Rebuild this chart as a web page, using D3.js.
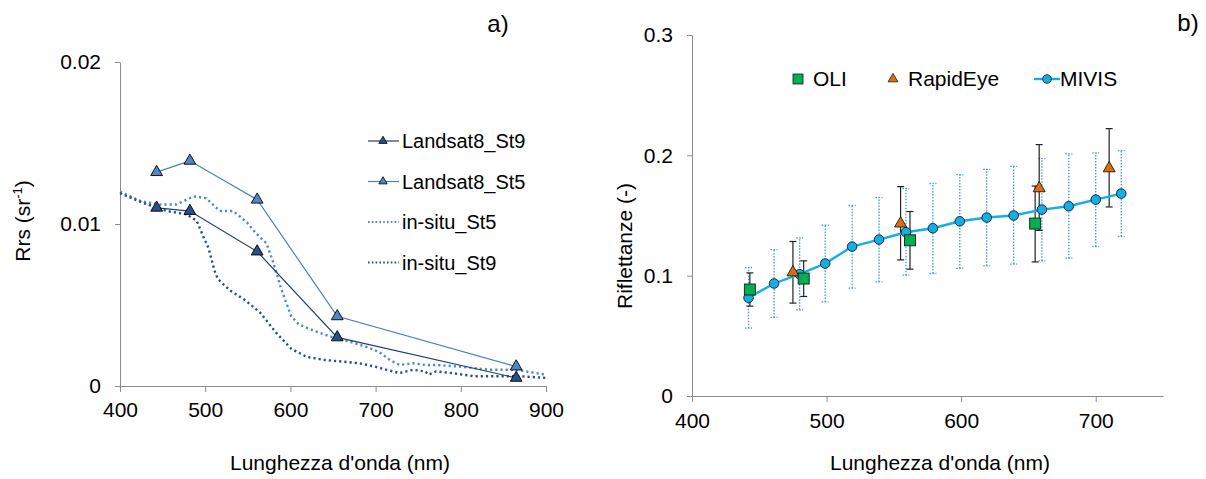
<!DOCTYPE html>
<html>
<head>
<meta charset="utf-8">
<script src="https://cdn.jsdelivr.net/npm/d3@7"></script>
<style>
  body { margin: 0; background: #fff; }
  svg { display: block; font-family: "Liberation Sans", Arial, sans-serif; }
  .tick text { fill: #000; }
</style>
</head>
<body>
<svg id="chart" width="1206" height="479"></svg>
<script>
// --- panel a) data ---
const landsatWave = [443, 482, 561, 655, 865];
const landsatSt9 = [0.0110, 0.0108, 0.0083, 0.0030, 0.0005];
const landsatSt5 = [0.0132, 0.0139, 0.0115, 0.0043, 0.0012];

const insituSt5 = [
  [400, 0.0120], [425, 0.0114], [447, 0.0112], [466, 0.0112], [486, 0.0117],
  [501, 0.0116], [517, 0.0108], [533, 0.0108], [549, 0.0101], [560, 0.0094],
  [572, 0.0088], [580, 0.0076], [588, 0.0062], [594, 0.0053], [601, 0.0043],
  [610, 0.0038], [628, 0.0034], [650, 0.0030], [672, 0.0027], [690, 0.0024],
  [704, 0.0021], [717, 0.0016], [728, 0.0013], [744, 0.0014], [758, 0.0013],
  [771, 0.0013], [798, 0.0012], [834, 0.0010], [865, 0.0010], [900, 0.0007]
];
const insituSt9 = [
  [400, 0.0119], [427, 0.0113], [455, 0.0108], [478, 0.0106], [490, 0.0102],
  [498, 0.0092], [504, 0.0085], [511, 0.0071], [515, 0.0066], [529, 0.0059],
  [547, 0.0053], [565, 0.0045], [583, 0.0033], [601, 0.0023], [619, 0.0018],
  [641, 0.0016], [663, 0.0015], [681, 0.0014], [699, 0.0012], [713, 0.0010],
  [728, 0.0008], [744, 0.0010], [758, 0.0009], [762, 0.0007], [771, 0.0009],
  [789, 0.0008], [816, 0.0006], [843, 0.0006], [870, 0.0006], [900, 0.0005]
];

// --- panel b) data ---
const mivisWave = [442, 461, 480, 499, 519, 539, 559, 579, 599, 619, 639, 660, 680, 700, 719];
const mivisVal  = [0.0816, 0.0935, 0.1012, 0.1101, 0.1242, 0.1300, 0.1361, 0.1394, 0.1452, 0.1483, 0.1500, 0.1549, 0.1577, 0.1632, 0.1682];
const mivisHigh = [0.1068, 0.1217, 0.1314, 0.1419, 0.1583, 0.1649, 0.1724, 0.1766, 0.1840, 0.1884, 0.1909, 0.1973, 0.2012, 0.2020, 0.2039];
const mivisLow  = [0.0564, 0.0653, 0.0716, 0.0782, 0.0896, 0.0948, 0.1004, 0.1018, 0.1060, 0.1082, 0.1096, 0.1123, 0.1145, 0.1242, 0.1325];

const oliWave = [443, 483, 562, 655];
const oliVal  = [0.0885, 0.0976, 0.1294, 0.1433];
const oliHigh = [0.1023, 0.1123, 0.1533, 0.1745];
const oliLow  = [0.0747, 0.0827, 0.1054, 0.1114];

const reWave = [475, 555, 658, 710];
const reVal  = [0.1027, 0.1433, 0.1726, 0.1892];
const reHigh = [0.1284, 0.1740, 0.2089, 0.2222];
const reLow  = [0.0772, 0.1131, 0.1376, 0.1571];

const svg = d3.select('#chart');
const axisColor = '#8c8c8c';
const tri = (size) => d3.symbol(d3.symbolTriangle, size)();

function styleAxis(g) {
  g.selectAll('path, line').attr('stroke', axisColor);
  g.selectAll('text').attr('font-size', 21).attr('fill', '#000');
}

// ================= panel a =================
const xa = d3.scaleLinear().domain([400, 900]).range([120, 546]);
const ya = d3.scaleLinear().domain([0, 0.02]).range([386, 62]);

svg.append('g')
  .attr('transform', 'translate(0,386)')
  .call(d3.axisBottom(xa).tickValues([400, 500, 600, 700, 800, 900]).tickSizeInner(6).tickSizeOuter(0).tickPadding(10))
  .call(styleAxis);
svg.append('g')
  .attr('transform', 'translate(120,0)')
  .call(d3.axisLeft(ya).tickValues([0, 0.01, 0.02]).tickSizeInner(5).tickSizeOuter(0).tickPadding(14)
    .tickFormat(d => d === 0 ? '0' : d3.format('.2f')(d)))
  .call(styleAxis);

const lineA = d3.line().x(d => xa(d[0])).y(d => ya(d[1]));

const aSeries = [
  { name: 'Landsat8_St9', pts: d3.zip(landsatWave, landsatSt9), color: '#1f3f73', fill: '#27508c', dotted: false },
  { name: 'Landsat8_St5', pts: d3.zip(landsatWave, landsatSt5), color: '#4a7ebf', fill: '#4f86c9', dotted: false },
  { name: 'in-situ_St5', pts: insituSt5, color: '#4f89c9', dotted: true },
  { name: 'in-situ_St9', pts: insituSt9, color: '#2c4f88', dotted: true }
];

// dotted in-situ lines first, then Landsat lines on top
[aSeries[2], aSeries[3], aSeries[1], aSeries[0]].forEach(s => {
  svg.append('path')
    .attr('d', lineA(s.pts))
    .attr('fill', 'none')
    .attr('stroke', s.color)
    .attr('stroke-width', s.dotted ? 2.4 : 1.2)
    .attr('stroke-dasharray', s.dotted ? '2.2,3' : null);
  if (!s.dotted) {
    svg.append('g').selectAll('path')
      .data(s.pts)
      .join('path')
      .attr('d', tri(60))
      .attr('transform', d => `translate(${xa(d[0])},${ya(d[1])})`)
      .attr('fill', s.fill)
      .attr('stroke', '#000')
      .attr('stroke-width', 0.9);
  }
});

// legend a
const legA = svg.append('g');
aSeries.forEach((s, i) => {
  const y = 141 + i * 40.5;
  legA.append('line')
    .attr('x1', 368).attr('x2', 399).attr('y1', y).attr('y2', y)
    .attr('stroke', s.color)
    .attr('stroke-width', s.dotted ? 1.8 : 1.2)
    .attr('stroke-dasharray', s.dotted ? '1.6,2.2' : null);
  if (!s.dotted) {
    legA.append('path')
      .attr('d', tri(30))
      .attr('transform', `translate(383,${y})`)
      .attr('fill', s.fill)
      .attr('stroke', '#000')
      .attr('stroke-width', 0.8);
  }
  legA.append('text')
    .attr('x', 402).attr('y', y).attr('dy', '0.35em')
    .attr('font-size', 20)
    .text(s.name);
});

// titles a
svg.append('text')
  .attr('x', 340).attr('y', 463).attr('dy', '0.35em')
  .attr('text-anchor', 'middle').attr('font-size', 21)
  .text("Lunghezza d'onda (nm)");
const ylabA = svg.append('text')
  .attr('transform', 'translate(30,221) rotate(-90)')
  .attr('text-anchor', 'middle').attr('font-size', 21);
ylabA.append('tspan').text('Rrs (sr');
ylabA.append('tspan').attr('font-size', 13).attr('dy', -8).text('-1');
ylabA.append('tspan').attr('dy', 8).text(')');
svg.append('text')
  .attr('x', 498).attr('y', 24).attr('dy', '0.35em')
  .attr('text-anchor', 'middle').attr('font-size', 24)
  .text('a)');

// ================= panel b =================
const xb = d3.scaleLinear().domain([400, 750]).range([692, 1163]);
const yb = d3.scaleLinear().domain([0, 0.3]).range([396, 35]);

svg.append('g')
  .attr('transform', 'translate(0,396)')
  .call(d3.axisBottom(xb).tickValues([400, 500, 600, 700]).tickSizeInner(6).tickSizeOuter(0).tickPadding(11))
  .call(styleAxis);
svg.append('g')
  .attr('transform', 'translate(692,0)')
  .call(d3.axisLeft(yb).tickValues([0, 0.1, 0.2, 0.3]).tickSizeInner(5).tickSizeOuter(0).tickPadding(14)
    .tickFormat(d => d === 0 ? '0' : d3.format('.1f')(d)))
  .call(styleAxis);

const mivis = mivisWave.map((w, i) => ({ w, v: mivisVal[i], hi: mivisHigh[i], lo: mivisLow[i] }));
const oli = oliWave.map((w, i) => ({ w, v: oliVal[i], hi: oliHigh[i], lo: oliLow[i] }));
const rapid = reWave.map((w, i) => ({ w, v: reVal[i], hi: reHigh[i], lo: reLow[i] }));

function errorBars(data, color, dotted) {
  const g = svg.append('g')
    .attr('stroke', color)
    .attr('stroke-width', dotted ? 1.3 : 1.2)
    .attr('stroke-dasharray', dotted ? '1.5,1.5' : null);
  g.selectAll('line.v').data(data).join('line').attr('class', 'v')
    .attr('x1', d => xb(d.w)).attr('x2', d => xb(d.w))
    .attr('y1', d => yb(d.lo)).attr('y2', d => yb(d.hi));
  ['hi', 'lo'].forEach(k => {
    g.selectAll('line.' + k).data(data).join('line').attr('class', k)
      .attr('x1', d => xb(d.w) - 3.5).attr('x2', d => xb(d.w) + 3.5)
      .attr('y1', d => yb(d[k])).attr('y2', d => yb(d[k]));
  });
}

errorBars(mivis, '#3d9be0', true);
errorBars(rapid, '#222', false);
errorBars(oli, '#222', false);

svg.append('path')
  .attr('d', d3.line().x(d => xb(d.w)).y(d => yb(d.v))(mivis))
  .attr('fill', 'none')
  .attr('stroke', '#12aee8')
  .attr('stroke-width', 2.4);

svg.append('g').selectAll('circle')
  .data(mivis)
  .join('circle')
  .attr('cx', d => xb(d.w)).attr('cy', d => yb(d.v))
  .attr('r', 4.8)
  .attr('fill', '#12aee8')
  .attr('stroke', '#1a1a1a')
  .attr('stroke-width', 0.9);

svg.append('g').selectAll('path')
  .data(rapid)
  .join('path')
  .attr('d', tri(62))
  .attr('transform', d => `translate(${xb(d.w)},${yb(d.v)})`)
  .attr('fill', '#e36c0a')
  .attr('stroke', '#1a1a1a')
  .attr('stroke-width', 0.9);

svg.append('g').selectAll('rect')
  .data(oli)
  .join('rect')
  .attr('x', d => xb(d.w) - 5.5).attr('y', d => yb(d.v) - 5.5)
  .attr('width', 11).attr('height', 11)
  .attr('fill', '#00b050')
  .attr('stroke', '#1a1a1a')
  .attr('stroke-width', 0.9);

// legend b
const legB = svg.append('g');
legB.append('rect')
  .attr('x', 793).attr('y', 74).attr('width', 10).attr('height', 10)
  .attr('fill', '#00b050').attr('stroke', '#1a1a1a').attr('stroke-width', 0.8);
legB.append('text').attr('x', 813).attr('y', 79).attr('dy', '0.35em').attr('font-size', 21).text('OLI');
legB.append('path')
  .attr('d', tri(42)).attr('transform', 'translate(893,79)')
  .attr('fill', '#e36c0a').attr('stroke', '#1a1a1a').attr('stroke-width', 0.8);
legB.append('text').attr('x', 908).attr('y', 79).attr('dy', '0.35em').attr('font-size', 21).text('RapidEye');
legB.append('line')
  .attr('x1', 1034).attr('x2', 1060).attr('y1', 79).attr('y2', 79)
  .attr('stroke', '#12aee8').attr('stroke-width', 2.4);
legB.append('circle')
  .attr('cx', 1047).attr('cy', 79).attr('r', 4.3)
  .attr('fill', '#12aee8').attr('stroke', '#1a1a1a').attr('stroke-width', 0.8);
legB.append('text').attr('x', 1060).attr('y', 79).attr('dy', '0.35em').attr('font-size', 21).text('MIVIS');

// titles b
svg.append('text')
  .attr('x', 940).attr('y', 463).attr('dy', '0.35em')
  .attr('text-anchor', 'middle').attr('font-size', 21)
  .text("Lunghezza d'onda (nm)");
svg.append('text')
  .attr('transform', 'translate(632,246) rotate(-90)')
  .attr('text-anchor', 'middle').attr('font-size', 21)
  .text('Riflettanze (-)');
svg.append('text')
  .attr('x', 1188).attr('y', 23).attr('dy', '0.35em')
  .attr('text-anchor', 'middle').attr('font-size', 24)
  .text('b)');
</script>
</body>
</html>
